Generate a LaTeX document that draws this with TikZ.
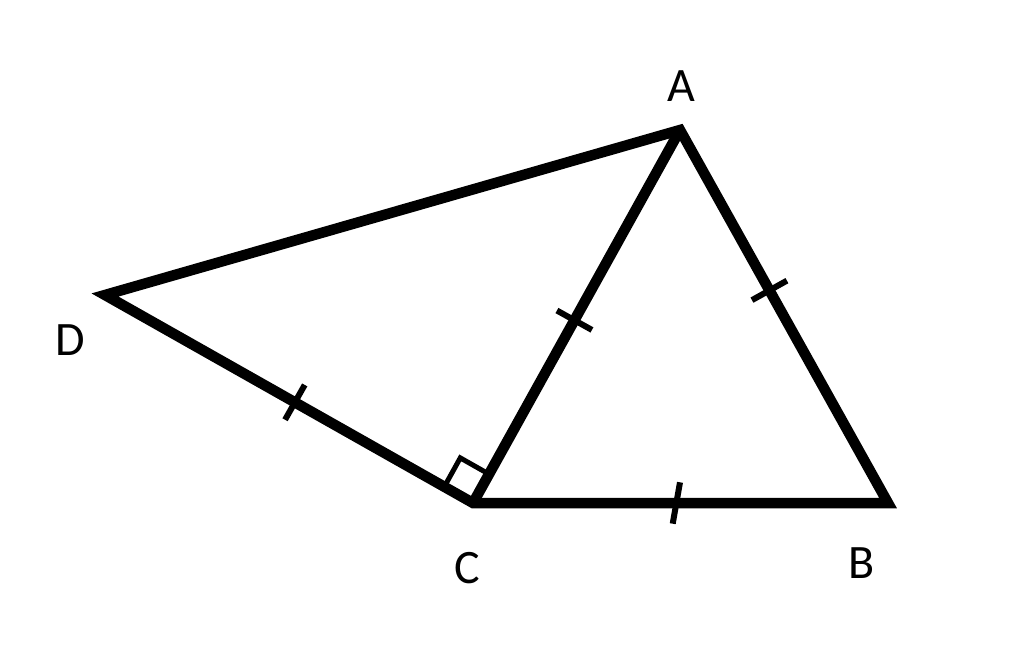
\documentclass[tikz,border=0pt]{standalone}
\usepackage{fontspec}
\setmainfont{Carlito}
\usetikzlibrary{calc}
\tikzset{
  edge/.style={line width=10.5pt, line join=miter},
  tickmark/.style={line width=6pt},
  rightmark/.style={line width=5pt},
  lbl/.style={font=\fontsize{48}{48}\selectfont, inner sep=0pt}
}
\begin{document}
\begin{tikzpicture}[x=1pt,y=-1pt]
\useasboundingbox[fill=white] (0,0) rectangle (1024,671);
\coordinate (A) at (680,130);
\coordinate (B) at (888,503);
\coordinate (C) at (473,503);
\coordinate (D) at (105,295);
% right angle mark
\coordinate (r1) at ($(C)!33pt!(D)$);
\coordinate (r2) at ($(C)!33pt!(A)$);
\coordinate (r3) at ($(r1)+(r2)-(C)$);
\draw[rightmark] (r1) -- (r3) -- (r2);
% edges
\draw[edge] (D) -- (A) -- (B) -- (C) -- cycle;
\draw[edge] (C) -- (A);
% ticks
\coordinate (m1) at ($(D)!0.516!(C)$);
\coordinate (m2) at ($(C)!0.49!(A)$);
\coordinate (m3) at ($(A)!0.43!(B)$);
\coordinate (m4) at ($(C)!0.49!(B)$);
\draw[tickmark] ($(m1)!20pt!90:(C)$) -- ($(m1)!20pt!-90:(C)$);
\draw[tickmark] ($(m2)!20pt!90:(A)$) -- ($(m2)!20pt!-90:(A)$);
\draw[tickmark] ($(m3)!20pt!90:(B)$) -- ($(m3)!20pt!-90:(B)$);
\draw[tickmark] ($(m4)!21pt!80:(B)$) -- ($(m4)!21pt!-100:(B)$);
% labels
\node[lbl] (lA) at (681,86) {A};
\node[lbl] (lB) at (862,563) {B};
\node[lbl] (lC) at (467,568) {C};
\node[lbl] (lD) at (70,340) {D};
\end{tikzpicture}
\end{document}
